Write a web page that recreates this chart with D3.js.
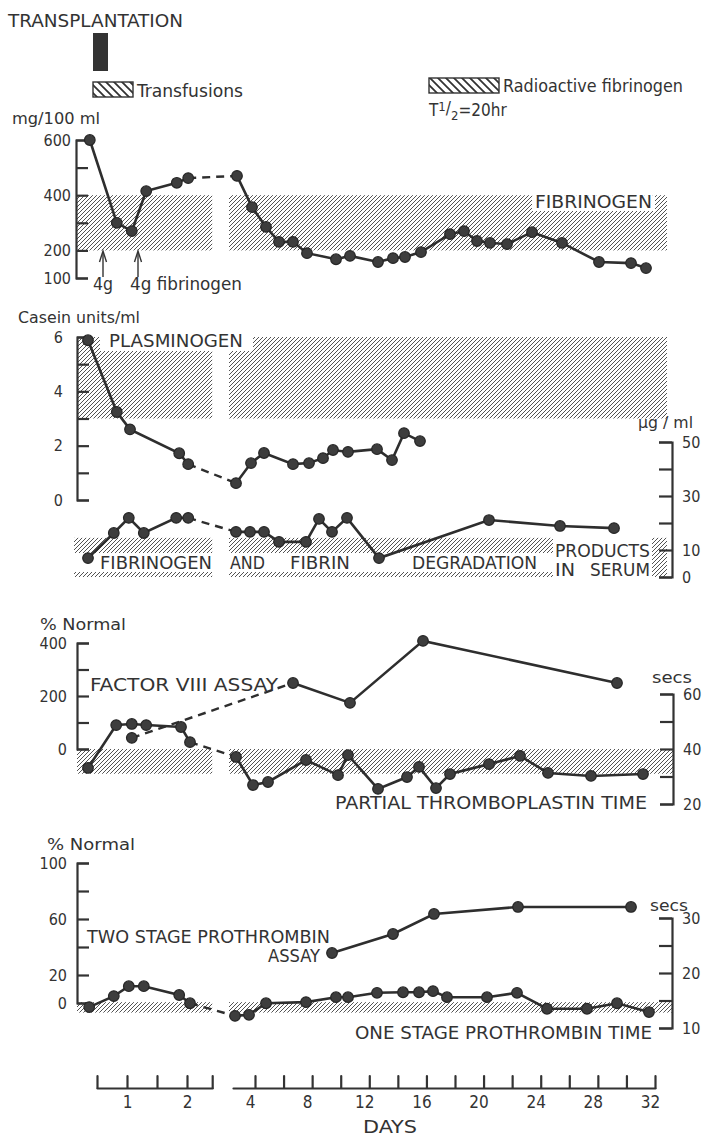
<!DOCTYPE html>
<html><head><meta charset="utf-8">
<script src="https://cdn.jsdelivr.net/npm/d3@7"></script>
<style>
body{margin:0;background:#fff}
svg{display:block}
text{font-family:'Liberation Sans Narrow','DejaVu Sans Condensed','Liberation Sans',sans-serif;fill:#333}
</style>
</head><body><script>
// ---------------- DATA ----------------
const dayTicksLeft  = [0.5, 1, 1.5, 2, 2.42];
const dayTicksRight = [4, 6, 8, 10, 12, 14, 16, 18, 20, 22, 24, 26, 28, 30, 32];
const dayLabels     = [1, 2, 4, 8, 12, 16, 20, 24, 28, 32];

// Fibrinogen (mg/100 ml)
const fibDays = [0.38,0.83,1.08,1.32,1.83,2.02, 2.74,3.79,4.77,5.68,6.66,7.64,9.67,10.65,12.61,13.66,14.5,15.62,17.65,18.63,19.54,20.45,21.64,23.39,25.49,28.08,30.32,31.37];
const fibVals = [600,300,270,415,445,462, 470,357,285,231,231,190,168,180,158,172,176,194,259,270,234,227,223,266,227,158,154,136];
const fibTicks = [100,200,300,400,500,600];
const fibLabels = [100,200,400,600];
const fibNormal = [200,400];

// Plasminogen (casein units/ml)
const plgDays = [0.35,0.83,1.05,1.87,2.02, 2.67,3.72,4.63,6.66,7.78,8.76,9.46,10.51,12.54,13.59,14.43,15.55];
const plgVals = [5.88,3.24,2.6,1.72,1.32, 0.62,1.36,1.73,1.32,1.36,1.54,1.84,1.77,1.87,1.47,2.46,2.17];
const plgTicks = [0,1,2,3,4,5,6];
const plgLabels = [0,2,4,6];
const plgNormal = [3,6];

// Fibrinogen & fibrin degradation products (ug/ml)
const fdpDays = [0.35,0.78,1.03,1.28,1.82,2.02, 2.67,3.65,4.63,5.68,7.57,8.48,9.39,10.44,12.68,20.38,25.35,29.13];
const fdpVals = [7,16.3,21.9,16.3,21.9,21.9, 16.7,16.7,16.7,13,13,21.5,16.7,21.9,7,21.1,18.9,18.1];
const fdpTicks = [0,10,20,30,40,50];
const fdpLabels = [0,10,30,50];
const fdpNormal = [0,14.5];

// Factor VIII assay (% normal)
const f8Days = [1.08, 6.66, 10.65, 15.76, 29.34];
const f8Vals = [42, 249, 174, 408, 249];
const f8Ticks = [0,100,200,300,400];
const f8Labels = [0,200,400];

// Partial thromboplastin time (secs)
const pttDays = [0.35,0.82,1.08,1.32,1.9,2.05, 2.67,3.86,4.91,7.57,9.81,10.51,12.61,14.64,15.48,16.67,17.65,20.38,22.55,24.51,27.52,31.16];
const pttVals = [33.1,48.7,49.1,48.7,48,42.5, 37.1,26.9,28,36,30.5,37.8,25.5,29.8,33.5,25.8,30.9,34.5,37.5,31.3,30.2,30.9];
const pttTicks = [20,30,40,50,60];
const pttLabels = [20,40,60];
const pttNormal = [31,40];

// Two stage prothrombin assay (% normal)
const tspDays = [9.39,13.66,16.53,22.41,30.32];
const tspVals = [35.7,49.3,63.6,68.6,68.6];
const tspTicks = [0,20,40,60,80,100];
const tspLabels = [0,20,60,100];

// One stage prothrombin time (secs)
const ospDays = [0.37,0.78,1.03,1.28,1.87,2.05, 2.6,3.58,4.77,7.57,9.67,10.51,12.54,14.36,15.48,16.46,17.44,20.24,22.34,24.44,27.24,29.34,31.58];
const ospVals = [13.8,15.8,17.6,17.6,16,14.5, 12.2,12.4,14.5,14.7,15.6,15.6,16.4,16.5,16.5,16.7,15.6,15.6,16.4,13.5,13.5,14.5,12.9];
const ospTicks = [10,15,20,25,30];
const ospLabels = [10,20,30];
const ospNormal = [12.8,14.7];

// ---------------- LAYOUT ----------------
const W = 703, H = 1136;
const INK = '#333';
const BREAK = 2.44;
const xL = d3.scaleLinear().domain([0.5, 2.42]).range([97, 212.2]);
const xR = d3.scaleLinear().domain([2.46, 32]).range([233, 655]);
const x = d3.scaleLinear().domain([0.5, 2.42, 2.46, 32]).range([97, 212.2, 233, 655]);

const svg = d3.select('body').append('svg').attr('width', W).attr('height', H);
const defs = svg.append('defs');
// fine "////" hatch for normal ranges
const pat = defs.append('pattern').attr('id','hatch').attr('patternUnits','userSpaceOnUse')
  .attr('width',4).attr('height',4);
pat.append('path').attr('d','M-1,1 l2,-2 M0,4 l4,-4 M3,5 l2,-2').attr('stroke','#4a4a4a').attr('stroke-width',0.95);
// coarse "\\\\" hatch for legend boxes
const pat2 = defs.append('pattern').attr('id','hatch2').attr('patternUnits','userSpaceOnUse')
  .attr('width',8).attr('height',8);
pat2.append('path').attr('d','M-2,-2 l12,12 M-2,6 l4,4 M6,-2 l4,4').attr('stroke','#333').attr('stroke-width',1.8);

function txt(str, tx, ty, size, opt) {
  opt = opt || {};
  const t = svg.append('text').attr('x', tx).attr('y', ty).attr('font-size', size).text(str);
  if (opt.len) t.attr('textLength', opt.len).attr('lengthAdjust', 'spacingAndGlyphs');
  if (opt.anchor) t.attr('text-anchor', opt.anchor);
  return t;
}
function whiteBox(x0, y0, x1, y1) {
  svg.append('rect').attr('x', x0).attr('y', y0).attr('width', x1 - x0).attr('height', y1 - y0).attr('fill', '#fff');
}
function band(y, range, x0, x1) {
  const segs = [[x0, xL(2.42)], [xR(2.46) - 4, x1]];
  segs.forEach(s => svg.append('rect')
    .attr('x', s[0]).attr('width', s[1] - s[0])
    .attr('y', y(range[1])).attr('height', y(range[0]) - y(range[1]))
    .attr('fill', 'url(#hatch)'));
}
function leftAxis(y, ax, ticks, labels, pad) {
  const g = svg.append('g').attr('transform', `translate(${ax},0)`)
    .call(d3.axisLeft(y).tickValues(ticks).tickSizeInner(-12).tickSizeOuter(-12).tickPadding(pad)
      .tickFormat(d => labels.includes(d) ? d : ''));
  style(g);
}
function rightAxis(y, ax, ticks, labels) {
  const g = svg.append('g').attr('transform', `translate(${ax},0)`)
    .call(d3.axisRight(y).tickValues(ticks).tickSizeInner(-13).tickSizeOuter(-13).tickPadding(10)
      .tickFormat(d => labels.includes(d) ? d : ''));
  style(g);
}
function style(g) {
  g.selectAll('path,line').attr('stroke', INK).attr('stroke-width', 2.2);
  g.selectAll('text').attr('font-size', 16).attr('fill', INK)
    .attr('font-family', "'Liberation Sans Narrow','DejaVu Sans Condensed','Liberation Sans',sans-serif");
}
function series(days, vals, y) {
  const pts = days.map((d, i) => ({ d, v: vals[i] }));
  const left = pts.filter(p => p.d < BREAK), right = pts.filter(p => p.d >= BREAK);
  const line = d3.line().x(p => x(p.d)).y(p => y(p.v));
  const g = svg.append('g');
  [left, right].forEach(s => {
    if (s.length > 1) g.append('path').attr('d', line(s)).attr('fill', 'none')
      .attr('stroke', '#2e2e2e').attr('stroke-width', 2.6);
  });
  if (left.length && right.length)
    g.append('path').attr('d', line([left[left.length - 1], right[0]])).attr('fill', 'none')
      .attr('stroke', '#2e2e2e').attr('stroke-width', 2.4).attr('stroke-dasharray', '8,6');
  g.selectAll('circle').data(pts).join('circle')
    .attr('cx', p => x(p.d)).attr('cy', p => y(p.v)).attr('r', 5.3)
    .attr('fill', '#3d3d3d').attr('stroke', '#262626').attr('stroke-width', 1.2);
}

// ---------------- HEADER / LEGEND ----------------
txt('TRANSPLANTATION', 8, 27, 17, { len: 175 });
svg.append('rect').attr('x', 93).attr('y', 33).attr('width', 15).attr('height', 38).attr('fill', '#333');
svg.append('rect').attr('x', 93).attr('y', 82).attr('width', 40).attr('height', 15)
  .attr('fill', 'url(#hatch2)').attr('stroke', INK).attr('stroke-width', 1.4);
txt('Transfusions', 137, 97, 17, { len: 106 });
svg.append('rect').attr('x', 429).attr('y', 78).attr('width', 70).attr('height', 15)
  .attr('fill', 'url(#hatch2)').attr('stroke', INK).attr('stroke-width', 1.4);
txt('Radioactive fibrinogen', 503, 92, 17, { len: 180 });
const th = svg.append('text').attr('x', 429).attr('y', 116).attr('font-size', 17);
th.append('tspan').text('T');
th.append('tspan').attr('font-size', 13).attr('dy', -5).text('1');
th.append('tspan').attr('font-size', 17).attr('dy', 3).text('/');
th.append('tspan').attr('font-size', 13).attr('dy', 6).text('2');
th.append('tspan').attr('font-size', 17).attr('dy', -4).text('=20hr');

// ---------------- PANEL 1: FIBRINOGEN ----------------
const yFib = d3.scaleLinear().domain([100, 600]).range([278, 140]);
band(yFib, fibNormal, 76, 667);
whiteBox(532, yFib(400), 655, 211);
txt('FIBRINOGEN', 535, 208, 17, { len: 117 });
leftAxis(yFib, 76, fibTicks, fibLabels, 5);
txt('mg/100 ml', 12, 124, 16, { len: 88 });
// arrows (transfusions of 4g fibrinogen)
[103, 138].forEach(ax => {
  svg.append('line').attr('x1', ax).attr('x2', ax).attr('y1', 277).attr('y2', 253).attr('stroke', INK).attr('stroke-width', 1.4);
  svg.append('path').attr('d', `M${ax - 3.5},262 L${ax},251 L${ax + 3.5},262`).attr('fill', 'none').attr('stroke', INK).attr('stroke-width', 1.4);
});
txt('4g', 93, 290, 17, { len: 20 });
txt('4g fibrinogen', 130, 290, 17, { len: 112 });
series(fibDays, fibVals, yFib);

// ---------------- PANEL 2: PLASMINOGEN + FDP ----------------
const yPlg = d3.scaleLinear().domain([0, 6]).range([500, 337]);
const yFdp = d3.scaleLinear().domain([0, 50]).range([577, 442]);
band(yPlg, plgNormal, 77, 667);
whiteBox(100, 335, 253, 351);
txt('PLASMINOGEN', 109, 347, 17, { len: 134 });
band(yFdp, fdpNormal, 74, 667);
whiteBox(74, 553, 553, 572);
whiteBox(553, 536, 652, 579);
txt('FIBRINOGEN', 100, 569, 17, { len: 112 });
txt('AND', 230, 569, 17, { len: 35 });
txt('FIBRIN', 290, 569, 17, { len: 60 });
txt('DEGRADATION', 412, 569, 17, { len: 125 });
txt('PRODUCTS', 555, 557, 17, { len: 95 });
txt('IN', 555, 576, 17, { len: 20 });
txt('SERUM', 590, 576, 17, { len: 60 });
leftAxis(yPlg, 77, plgTicks, plgLabels, 14);
rightAxis(yFdp, 672, fdpTicks, fdpLabels);
txt('Casein units/ml', 18, 323, 15, { len: 122 });
txt('\u03bcg / ml', 638, 428, 16, { len: 55 });
series(plgDays, plgVals, yPlg);
series(fdpDays, fdpVals, yFdp);

// ---------------- PANEL 3: FACTOR VIII + PTT ----------------
const yF8 = d3.scaleLinear().domain([0, 400]).range([749, 643]);
const yPtt = d3.scaleLinear().domain([20, 60]).range([804, 694]);
band(yPtt, pttNormal, 77, 673);
leftAxis(yF8, 77, f8Ticks, f8Labels, 10);
rightAxis(yPtt, 673, pttTicks, pttLabels);
txt('% Normal', 40, 630, 15, { len: 86 });
txt('secs', 652, 683, 16, { len: 40 });
txt('FACTOR VIII ASSAY', 90, 691, 17, { len: 188 });
txt('PARTIAL THROMBOPLASTIN TIME', 335, 809, 17, { len: 312 });
series(pttDays, pttVals, yPtt);
series(f8Days, f8Vals, yF8);

// ---------------- PANEL 4: PROTHROMBIN ----------------
const yTsp = d3.scaleLinear().domain([0, 100]).range([1003, 863]);
const yOsp = d3.scaleLinear().domain([10, 30]).range([1028, 918]);
band(yOsp, ospNormal, 77, 672);
leftAxis(yTsp, 77, tspTicks, tspLabels, 10);
rightAxis(yOsp, 672, ospTicks, ospLabels);
txt('% Normal', 47, 850, 15, { len: 88 });
txt('secs', 650, 911, 16, { len: 38 });
txt('TWO STAGE PROTHROMBIN', 87, 943, 17, { len: 243 });
txt('ASSAY', 268, 962, 17, { len: 52 });
txt('ONE STAGE PROTHROMBIN TIME', 355, 1039, 17, { len: 297 });
series(ospDays, ospVals, yOsp);
series(tspDays, tspVals, yTsp);

// ---------------- X AXIS (DAYS) ----------------
const gxL = svg.append('g').attr('transform', 'translate(0,1088)')
  .call(d3.axisBottom(xL).tickValues(dayTicksLeft).tickSizeInner(-12).tickSizeOuter(0).tickPadding(8)
    .tickFormat(d => dayLabels.includes(d) ? d : ''));
style(gxL);
const gxR = svg.append('g').attr('transform', 'translate(0,1088)')
  .call(d3.axisBottom(xR).tickValues(dayTicksRight).tickSizeInner(-12).tickSizeOuter(0).tickPadding(8)
    .tickFormat(d => dayLabels.includes(d) ? d : ''));
style(gxR);
gxL.selectAll('text').attr('font-size', 17);
gxR.selectAll('text').attr('font-size', 17).attr('dx', -5);
gxL.selectAll('path,line').attr('stroke-linecap', 'round');
gxR.selectAll('path,line').attr('stroke-linecap', 'round');
txt('DAYS', 390, 1133, 17, { anchor: 'middle', len: 54 });
</script></body></html>
